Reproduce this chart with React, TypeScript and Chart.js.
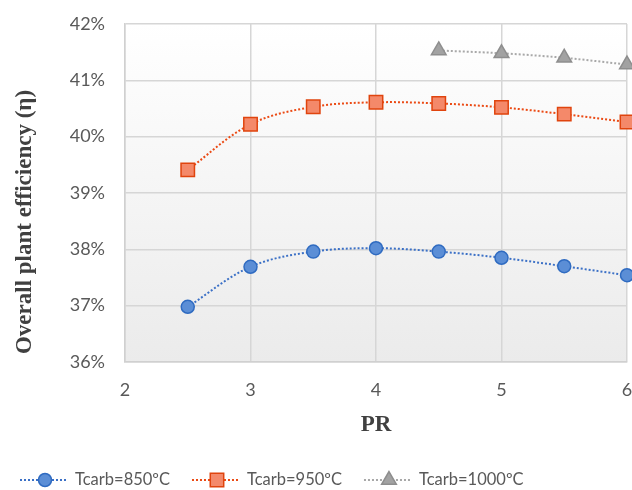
import React, { useEffect, useRef } from "react";
import { Chart, registerables } from "chart.js";

Chart.register(...registerables);

const prA = [2.5, 3, 3.5, 4, 4.5, 5, 5.5, 6];
const eff850 = [36.98, 37.69, 37.96, 38.02, 37.96, 37.85, 37.7, 37.54];
const eff950 = [39.41, 40.22, 40.53, 40.61, 40.59, 40.52, 40.4, 40.26];
const prB = [4.5, 5, 5.5, 6];
const eff1000 = [41.53, 41.48, 41.4, 41.28];
const seriesLabels = ["Tcarb=850ºC", "Tcarb=950ºC", "Tcarb=1000ºC"];
const xTitle = "PR";
const yTitle = "Overall plant efficiency (η)";

const TICK_FONT = "Lato";
const TITLE_FONT = "'Liberation Serif'";

const styles = [
  { line: "#3B70C6", fill: "#5B8ED6", border: "#2F6BC1", point: "circle", radius: 6.5, width: 2 },
  { line: "#EB4A14", fill: "#F4896A", border: "#E0440E", point: "rect", radius: 9.5, width: 2 },
  { line: "#A8A8A8", fill: "#A2A2A2", border: "#8E8E8E", point: "triangle", radius: 8.5, width: 2 },
];

const bgPlugin = {
  id: "bgGrad",
  beforeDraw(chart: any) {
    const { ctx, chartArea: a } = chart;
    const g = ctx.createLinearGradient(0, a.top, 0, a.bottom);
    g.addColorStop(0, "#ffffff");
    g.addColorStop(1, "#ebebeb");
    ctx.save();
    ctx.fillStyle = g;
    ctx.fillRect(a.left, a.top, a.right - a.left, a.bottom - a.top);
    ctx.restore();
  },
};

const decorPlugin = {
  id: "decor",
  afterDraw(chart: any) {
    const { ctx, chartArea: a } = chart;
    ctx.save();
    ctx.fillStyle = "#404040";
    ctx.font = `bold 23px ${TITLE_FONT}`;
    ctx.textAlign = "center";
    ctx.textBaseline = "middle";
    ctx.translate(25, 222);
    ctx.rotate(-Math.PI / 2);
    ctx.fillText(yTitle, 0, 0);
    ctx.restore();

    ctx.save();
    ctx.fillStyle = "#404040";
    ctx.font = `bold 23px ${TITLE_FONT}`;
    ctx.textAlign = "center";
    ctx.textBaseline = "middle";
    ctx.fillText(xTitle, (a.left + a.right) / 2, 425);
    ctx.restore();

    ctx.save();
    ctx.font = `16.5px ${TICK_FONT}`;
    ctx.textBaseline = "middle";
    ctx.textAlign = "left";
    let x = 20;
    const y = 480;
    seriesLabels.forEach((lab, i) => {
      const s = styles[i];
      ctx.save();
      ctx.strokeStyle = s.line;
      ctx.lineWidth = 2;
      ctx.setLineDash([2, 2]);
      ctx.beginPath();
      ctx.moveTo(x, y);
      ctx.lineTo(x + 48, y);
      ctx.stroke();
      ctx.restore();
      ctx.save();
      ctx.fillStyle = s.fill;
      ctx.strokeStyle = s.border;
      ctx.lineWidth = 1.5;
      const cx = x + 25;
      const r = s.radius;
      ctx.beginPath();
      if (s.point === "circle") {
        ctx.arc(cx, y, r, 0, Math.PI * 2);
      } else if (s.point === "rect") {
        const h = r * Math.SQRT1_2;
        ctx.rect(cx - h, y - h, 2 * h, 2 * h);
      } else {
        let rad = 0;
        ctx.moveTo(cx + Math.sin(rad) * r, y - Math.cos(rad) * r);
        rad += (2 * Math.PI) / 3;
        ctx.lineTo(cx + Math.sin(rad) * r, y - Math.cos(rad) * r);
        rad += (2 * Math.PI) / 3;
        ctx.lineTo(cx + Math.sin(rad) * r, y - Math.cos(rad) * r);
        ctx.closePath();
      }
      ctx.fill();
      ctx.stroke();
      ctx.restore();
      ctx.fillStyle = "#595959";
      ctx.fillText(lab, x + 55, y);
      x = x + 55 + ctx.measureText(lab).width + 22;
    });
    ctx.restore();
  },
};

export default function App() {
  const ref = useRef<HTMLCanvasElement | null>(null);
  useEffect(() => {
    document.body.style.margin = "0";
    const ctx = ref.current!.getContext("2d")!;
    const mk = (xs: number[], ys: number[], i: number) => {
      const s = styles[i];
      return {
        label: seriesLabels[i],
        data: xs.map((v, k) => ({ x: v, y: ys[k] })),
        borderColor: s.line,
        borderWidth: s.width,
        borderDash: [2, 2],
        tension: 0.35,
        pointStyle: s.point,
        pointRadius: s.radius,
        pointBackgroundColor: s.fill,
        pointBorderColor: s.border,
        pointBorderWidth: 1.5,
        clip: false,
      };
    };
    const chart = new Chart(ctx, {
      type: "line",
      data: {
        datasets: [mk(prA, eff850, 0), mk(prA, eff950, 1), mk(prB, eff1000, 2)] as any,
      },
      plugins: [bgPlugin, decorPlugin],
      options: {
        responsive: false,
        animation: false,
        layout: { autoPadding: false, padding: { top: 24, left: 0, right: 5, bottom: 0 } },
        plugins: { legend: { display: false }, tooltip: { enabled: false } },
        scales: {
          x: {
            type: "linear",
            min: 2,
            max: 6,
            ticks: { stepSize: 1, color: "#595959", font: { family: TICK_FONT, size: 18 }, padding: 17 },
            grid: { color: "#d6d6d6", lineWidth: 1.5, drawTicks: false },
            border: { color: "#d0d0d0", width: 1.5 },
            afterFit: (s: any) => {
              s.height = 128;
              s.paddingRight = 0;
              s.paddingLeft = 0;
            },
          },
          y: {
            min: 36,
            max: 42,
            ticks: {
              stepSize: 1,
              color: "#595959",
              font: { family: TICK_FONT, size: 18 },
              padding: 20,
              callback: (v: any) => `${v}%`,
            },
            grid: { color: "#d6d6d6", lineWidth: 1.5, drawTicks: false },
            border: { color: "#d0d0d0", width: 1.5 },
            afterFit: (s: any) => {
              s.width = 125;
              s.paddingTop = 0;
              s.paddingBottom = 0;
            },
          },
        },
      } as any,
    });
    return () => chart.destroy();
  }, []);
  return (
    <div style={{ width: 632, height: 490 }}>
      <canvas ref={ref} width={632} height={490} />
    </div>
  );
}
